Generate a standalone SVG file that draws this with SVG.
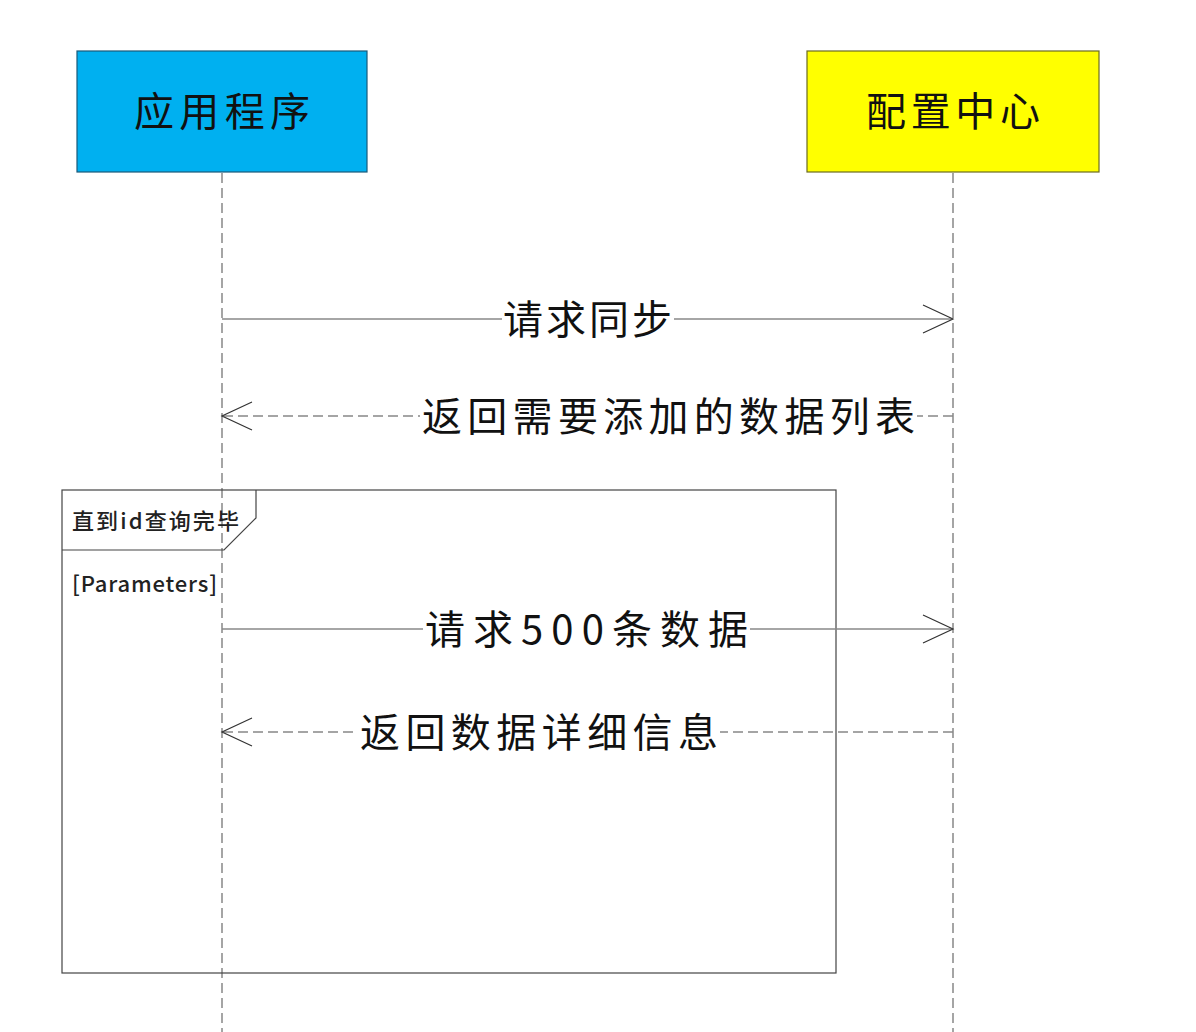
<svg xmlns="http://www.w3.org/2000/svg" width="1196" height="1032" viewBox="0 0 1196 1032">
<style>
.hand{font-family:"Noto Sans CJK SC","Noto Sans",sans-serif;font-size:40px;fill:#111;}
.lbl{font-family:"Noto Sans CJK SC","Noto Sans",sans-serif;font-size:22px;font-weight:500;fill:#222;}
.life{stroke:#888;stroke-width:1.5;stroke-dasharray:10 5;fill:none;}
.msg{stroke:#888;stroke-width:1.5;fill:none;}
.ret{stroke:#888;stroke-width:1.5;stroke-dasharray:10 5;fill:none;}
.head{stroke:#333;stroke-width:1.2;fill:none;}
.bg{fill:#fff;}
</style>
<rect width="1196" height="1032" fill="#fff"/>
<g id="lifelines">
<line class="life" x1="222" y1="173" x2="222" y2="1032"/>
<line class="life" x1="953" y1="173" x2="953" y2="1032"/>
</g>
<g id="app">
<rect x="77" y="51" width="290" height="121" fill="#00b0f0" stroke="#1a5a7a" stroke-width="1.2"/>
<text class="hand" x="222" y="126" text-anchor="middle" textLength="176">应用程序</text>
</g>
<g id="config">
<rect x="807" y="51" width="292" height="121" fill="#ffff00" stroke="#6b6b20" stroke-width="1.2"/>
<text class="hand" x="953" y="126" text-anchor="middle" textLength="174">配置中心</text>
</g>
<g id="loop">
<rect x="62" y="490" width="774" height="483" fill="none" stroke="#444" stroke-width="1.2"/>
<path d="M62 550 H224 L256 518 V490" fill="none" stroke="#444" stroke-width="1.2"/>
<text class="lbl" x="72" y="529" textLength="167">直到id查询完毕</text>
<text class="lbl" x="72" y="592" textLength="145">[Parameters]</text>
</g>
<g id="connectors">
<line class="msg" x1="222" y1="319" x2="952" y2="319"/>
<path class="head" d="M923 305 L953 319 L923 333"/>
<line class="ret" x1="953" y1="416" x2="223" y2="416"/>
<path class="head" d="M252 402 L222 416 L252 430"/>
<line class="msg" x1="222" y1="629" x2="952" y2="629"/>
<path class="head" d="M923 615 L953 629 L923 643"/>
<line class="ret" x1="953" y1="732" x2="223" y2="732"/>
<path class="head" d="M252 718 L222 732 L252 746"/>
</g>
<g id="labels">
<rect class="bg" x="502" y="296" width="172" height="46"/>
<text class="hand" x="503" y="334" textLength="169">请求同步</text>
<rect class="bg" x="420" y="393" width="497" height="46"/>
<text class="hand" x="422" y="431" textLength="493">返回需要添加的数据列表</text>
<rect class="bg" x="423" y="606" width="327" height="46"/>
<text class="hand" x="425" y="644" textLength="323">请求500条数据</text>
<rect class="bg" x="358" y="709" width="362" height="46"/>
<text class="hand" x="360" y="747" textLength="358">返回数据详细信息</text>
</g>
</svg>
